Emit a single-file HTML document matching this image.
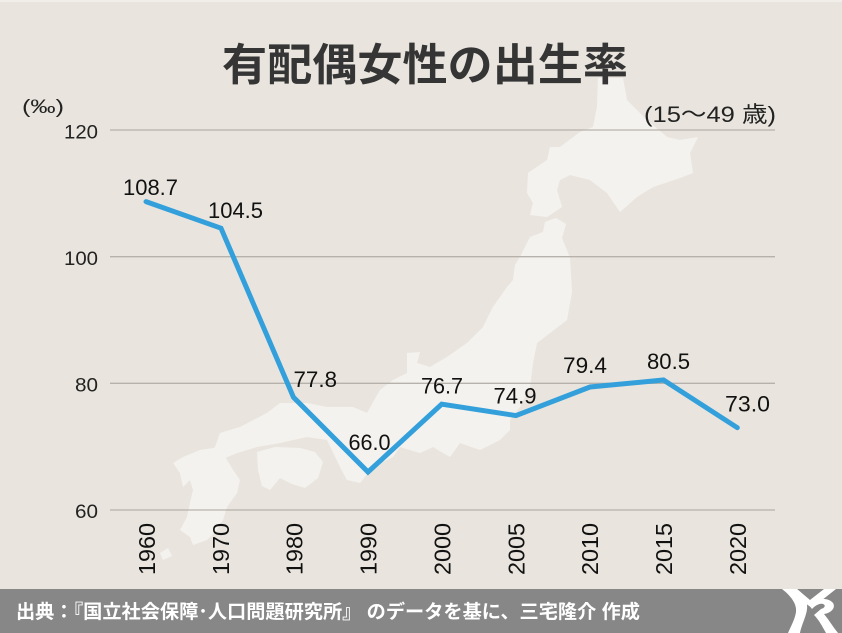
<!DOCTYPE html>
<html>
<head>
<meta charset="utf-8">
<style>
  html, body { margin: 0; padding: 0; background: #e9e5de; }
  body { width: 842px; height: 633px; overflow: hidden; }
  svg { display: block; }
  .jp { font-family: "Liberation Sans", "Noto Sans CJK JP", sans-serif; }
  .num { font-family: "Liberation Sans", sans-serif; }
</style>
</head>
<body>
<svg width="842" height="633" viewBox="0 0 842 633" xmlns="http://www.w3.org/2000/svg">
  <rect x="0" y="0" width="842" height="633" fill="#e9e5de"/>
  <rect x="0" y="0" width="842" height="2" fill="#f1eee9"/>

  <!-- Japan map silhouette -->
  <g fill="#f4f2ee">
    <!-- Hokkaido -->
    <path d="M598,78 L623,78 L627,100 L647,120 L667,137 L680,140 L698,137 L690,153 L693,173 L680,178 L653,187 L637,197 L620,212 L607,193 L590,180 L570,175 L560,180 L557,190 L562,207 L547,217 L530,215 L533,203 L527,193 L528,173 L547,160 L550,147 L560,147 L580,132 L593,127 L597,107 Z"/>
    <!-- Honshu -->
    <path d="M545,222 L556,218 L566,224 L562,238 L570,258 L572,292 L567,320 L550,333 L537,343 L533,363 L530,387 L520,407 L510,420 L510,430 L500,440 L480,450 L460,443 L450,457 L433,447 L420,453 L400,447 L393,457 L373,467 L360,483 L347,480 L340,467 L327,440 L307,437 L280,443 L257,447 L237,453 L220,460 L214,450 L220,433 L240,427 L267,413 L280,403 L307,403 L327,407 L353,407 L367,413 L380,390 L393,380 L407,373 L407,353 L420,352 L417,363 L430,367 L447,357 L467,343 L483,327 L493,307 L507,287 L513,280 L515,265 L520,257 L530,237 L543,232 Z"/>
    <!-- Shikoku -->
    <path d="M257,452 L275,447 L300,448 L315,452 L323,462 L318,478 L305,488 L292,484 L280,478 L270,490 L262,486 L258,470 Z"/>
    <!-- Kyushu -->
    <path d="M173,463 L183,457 L200,450 L220,447 L223,453 L233,470 L240,480 L237,493 L227,507 L223,520 L217,530 L207,540 L193,545 L190,537 L180,530 L187,517 L190,503 L193,490 L190,480 L183,487 L180,473 Z"/>
    <path d="M160,553 L168,548 L172,556 L163,560 Z"/>
  </g>

  <!-- Title -->
  <text x="222" y="80" class="jp" font-size="44" font-weight="700" fill="#353535" textLength="406" lengthAdjust="spacingAndGlyphs">有配偶女性の出生率</text>

  <!-- Units -->
  <text x="22" y="113" class="jp" font-size="19" fill="#222" textLength="42" lengthAdjust="spacingAndGlyphs">(‰)</text>
  <text x="644" y="122" class="jp" font-size="22" fill="#222" textLength="132" lengthAdjust="spacingAndGlyphs">(15〜49 歳)</text>

  <!-- Gridlines -->
  <g stroke="#b6b2ab" stroke-width="1.3">
    <line x1="110" y1="130" x2="775" y2="130"/>
    <line x1="110" y1="256.7" x2="775" y2="256.7"/>
    <line x1="110" y1="383.3" x2="775" y2="383.3"/>
    <line x1="110" y1="510" x2="775" y2="510"/>
  </g>

  <!-- Y labels -->
  <g class="num" font-size="19" fill="#222" text-anchor="end">
    <text x="98" y="138.5" textLength="34" lengthAdjust="spacingAndGlyphs">120</text>
    <text x="98" y="265" textLength="34" lengthAdjust="spacingAndGlyphs">100</text>
    <text x="98" y="391.5" textLength="23" lengthAdjust="spacingAndGlyphs">80</text>
    <text x="98" y="518" textLength="23" lengthAdjust="spacingAndGlyphs">60</text>
  </g>

  <!-- X labels (rotated) -->
  <g class="num" font-size="23" fill="#111">
    <text transform="translate(155,575) rotate(-90)" textLength="52" lengthAdjust="spacingAndGlyphs">1960</text>
    <text transform="translate(229,575) rotate(-90)" textLength="52" lengthAdjust="spacingAndGlyphs">1970</text>
    <text transform="translate(302.5,575) rotate(-90)" textLength="52" lengthAdjust="spacingAndGlyphs">1980</text>
    <text transform="translate(376.5,575) rotate(-90)" textLength="52" lengthAdjust="spacingAndGlyphs">1990</text>
    <text transform="translate(450.5,575) rotate(-90)" textLength="52" lengthAdjust="spacingAndGlyphs">2000</text>
    <text transform="translate(524.5,575) rotate(-90)" textLength="52" lengthAdjust="spacingAndGlyphs">2005</text>
    <text transform="translate(598,575) rotate(-90)" textLength="52" lengthAdjust="spacingAndGlyphs">2010</text>
    <text transform="translate(672,575) rotate(-90)" textLength="52" lengthAdjust="spacingAndGlyphs">2015</text>
    <text transform="translate(746,575) rotate(-90)" textLength="52" lengthAdjust="spacingAndGlyphs">2020</text>
  </g>

  <!-- Data line -->
  <polyline points="146,201.6 221,228.2 293.5,397.3 368,472 441.7,404.2 516,415.6 590,387 663.5,380 737.3,427.7"
    fill="none" stroke="#34a0db" stroke-width="5" stroke-linejoin="miter" stroke-linecap="round"/>

  <!-- Data labels -->
  <g class="num" font-size="22" fill="#111">
    <text x="123" y="195" textLength="55" lengthAdjust="spacingAndGlyphs">108.7</text>
    <text x="208" y="218" textLength="55" lengthAdjust="spacingAndGlyphs">104.5</text>
    <text x="293.5" y="387" textLength="43.5" lengthAdjust="spacingAndGlyphs">77.8</text>
    <text x="348.5" y="450" textLength="42" lengthAdjust="spacingAndGlyphs">66.0</text>
    <text x="421" y="393.3" textLength="42" lengthAdjust="spacingAndGlyphs">76.7</text>
    <text x="493.5" y="403.3" textLength="43" lengthAdjust="spacingAndGlyphs">74.9</text>
    <text x="563" y="373" textLength="44" lengthAdjust="spacingAndGlyphs">79.4</text>
    <text x="647" y="369" textLength="43" lengthAdjust="spacingAndGlyphs">80.5</text>
    <text x="725" y="411.7" textLength="45" lengthAdjust="spacingAndGlyphs">73.0</text>
  </g>

  <!-- Footer -->
  <rect x="0" y="589" width="842" height="44" fill="#878787"/>
  <text x="16" y="618" class="jp" font-size="19" font-weight="700" fill="#ffffff" textLength="624" lengthAdjust="spacingAndGlyphs">出典：『国立社会保障･人口問題研究所』 のデータを基に、三宅隆介 作成</text>

  <!-- Logo -->
  <g fill="#ffffff">
    <path d="M782,589 L797,589 C806,596 809,604 806,614 C804,621 801,627 800,633 L788,633 C791,626 795,619 796,612 C797,604 791,596 782,589 Z"/>
    <path d="M797,589 L810,600 L824,589 L836,589 L812,608 L805,603 Z"/>
    <path d="M809,605 C816,598 828,597 833,603 C836,608 831,613 824,614 C829,620 833,627 838,633 L826,633 C822,626 819,620 814,615 L821,609 C825,608 826,605 823,604 C819,603 815,606 812,609 Z"/>
  </g>
</svg>
</body>
</html>
